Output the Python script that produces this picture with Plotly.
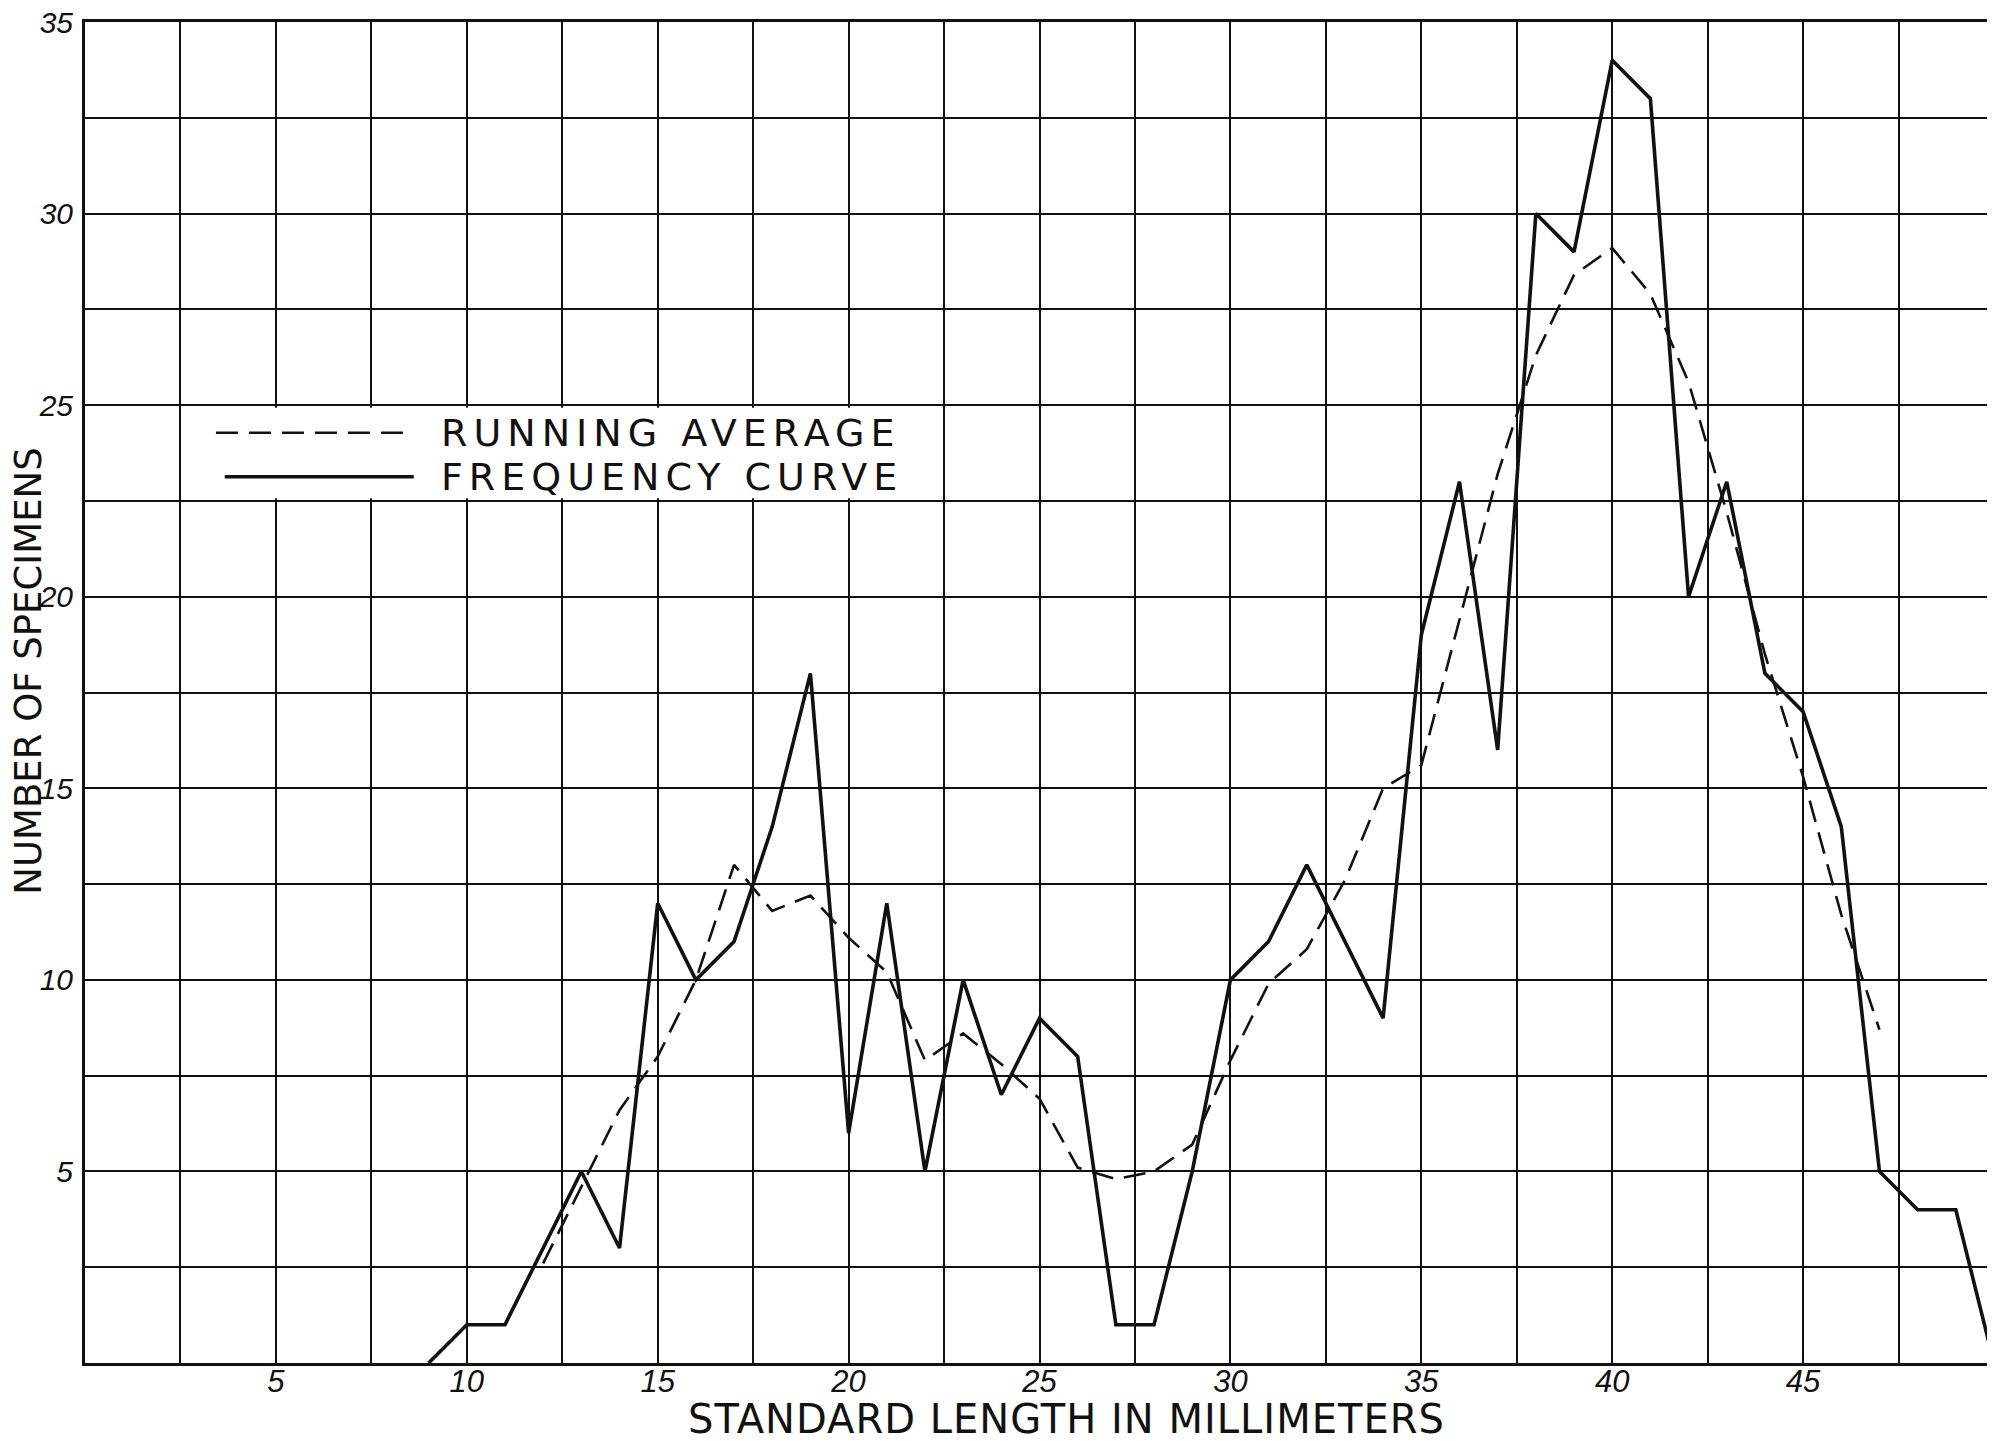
import plotly.graph_objects as go

# ---- data ----
length_mm = [9, 10, 11, 12, 13, 14, 15, 16, 17, 18, 19, 20, 21, 22, 23, 24, 25, 26, 27, 28, 29,
             30, 31, 32, 33, 34, 35, 36, 37, 38, 39, 40, 41, 42, 43, 44, 45, 46, 47, 48, 49, 50]
frequency = [0, 1, 1, 3, 5, 3, 12, 10, 11, 14, 18, 6, 12, 5, 10, 7, 9, 8, 1, 1, 5,
             10, 11, 13, 11, 9, 19, 23, 16, 30, 29, 34, 33, 20, 23, 18, 17, 14, 5, 4, 4, 0]

avg_length_mm = [12, 13, 14, 15, 16, 17, 18, 19, 20, 21, 22, 23, 24, 25, 26, 27, 28, 29,
                 30, 31, 32, 33, 34, 35, 36, 37, 38, 39, 40, 41, 42, 43, 44, 45, 46, 47]
running_avg = [2.6, 4.6, 6.6, 8.0, 10.0, 13.0, 11.8, 12.2, 11.1, 10.2, 7.9, 8.6, 7.8, 6.9, 5.1, 4.8, 5.0, 5.7,
               7.9, 9.9, 10.8, 12.6, 15.0, 15.6, 19.4, 23.2, 26.3, 28.4, 29.1, 27.9, 25.6, 22.2, 18.5, 15.3, 11.7, 8.7]

x_ticks = [5, 10, 15, 20, 25, 30, 35, 40, 45]
y_ticks = [5, 10, 15, 20, 25, 30, 35]

series_names = ["RUNNING AVERAGE", "FREQUENCY CURVE"]
x_title = "STANDARD LENGTH IN MILLIMETERS"
y_title = "NUMBER OF SPECIMENS"

INK = "#111111"
TXT_FONT = "DejaVu Sans, Liberation Sans, sans-serif"
NUM_FONT = "Liberation Sans, DejaVu Sans, sans-serif"

DASH = "22px,11px"
AVG_LINE = dict(color=INK, width=2.6, dash=DASH)
FREQ_LINE = dict(color=INK, width=3.6)


def spaced(text, px):
    return '<span style="letter-spacing:%dpx">%s</span>' % (px, text)


fig = go.Figure()
fig.add_trace(go.Scatter(
    x=avg_length_mm, y=running_avg, mode="lines", name=series_names[0],
    line=AVG_LINE, showlegend=False,
))
fig.add_trace(go.Scatter(
    x=length_mm, y=frequency, mode="lines", name=series_names[1],
    line=FREQ_LINE, showlegend=False,
))

# ---- hand-drawn style key (box sits between the 22.5 and 25 grid lines) ----
key_box = dict(x0=2.75, x1=22.2, y0=22.57, y1=24.93)
key_rows = [24.28, 23.13]
key_line_x = [(3.43, 8.59), (3.66, 8.61)]
key_text_x = 9.27

shapes = [dict(type="rect", xref="x", yref="y", layer="between",
               fillcolor="white", line=dict(width=0), **key_box)]
for (kx0, kx1), ky, style in zip(key_line_x, key_rows, [AVG_LINE, FREQ_LINE]):
    shapes.append(dict(type="line", xref="x", yref="y", layer="above",
                       x0=kx0, x1=kx1, y0=ky, y1=ky,
                       line=dict(color=style["color"], width=style["width"],
                                 dash=style.get("dash", "solid"))))

annotations = [
    dict(text=spaced(name, 6), xref="x", yref="y", x=key_text_x, y=ky,
         xanchor="left", yanchor="middle", showarrow=False,
         font=dict(family=TXT_FONT, size=38, color=INK))
    for name, ky in zip(series_names, key_rows)
]
annotations += [
    dict(text=spaced(x_title, 1), xref="paper", yref="paper", x=0.514, y=-0.0415,
         xanchor="center", yanchor="middle", showarrow=False,
         font=dict(family=TXT_FONT, size=40, color=INK)),
    dict(text=y_title, xref="paper", yref="paper", x=-0.0300, y=0.516,
         xanchor="center", yanchor="middle", showarrow=False, textangle=-90,
         font=dict(family=TXT_FONT, size=37, color=INK)),
]

fig.update_layout(
    width=1987, height=1433,
    margin=dict(l=77, r=1, t=14, b=78, autoexpand=False),
    paper_bgcolor="white", plot_bgcolor="white",
    showlegend=False,
    shapes=shapes,
    annotations=annotations,
    xaxis=dict(
        range=[0, 50], tickmode="array", tickvals=x_ticks,
        ticktext=[str(v) for v in x_ticks],
        tickfont=dict(family=NUM_FONT, size=31, color=INK, style="italic"),
        ticks="", ticklabelstandoff=-11, ticklabeloverflow="allow",
        showline=True, linecolor=INK, linewidth=3, mirror=True,
        showgrid=True, gridcolor=INK, gridwidth=2,
        minor=dict(dtick=2.5, tick0=0, showgrid=True, gridcolor=INK, gridwidth=2),
        zeroline=False, automargin=False, fixedrange=True,
    ),
    yaxis=dict(
        range=[0, 35], tickmode="array", tickvals=y_ticks,
        ticktext=[str(v) for v in y_ticks],
        tickfont=dict(family=NUM_FONT, size=30, color=INK, style="italic"),
        ticks="", ticklabelstandoff=3, ticklabeloverflow="allow",
        showline=True, linecolor=INK, linewidth=3, mirror=False,
        showgrid=True, gridcolor=INK, gridwidth=2,
        minor=dict(dtick=2.5, tick0=0, showgrid=True, gridcolor=INK, gridwidth=2),
        zeroline=False, automargin=False, fixedrange=True,
    ),
)

fig.write_html("out.html")
